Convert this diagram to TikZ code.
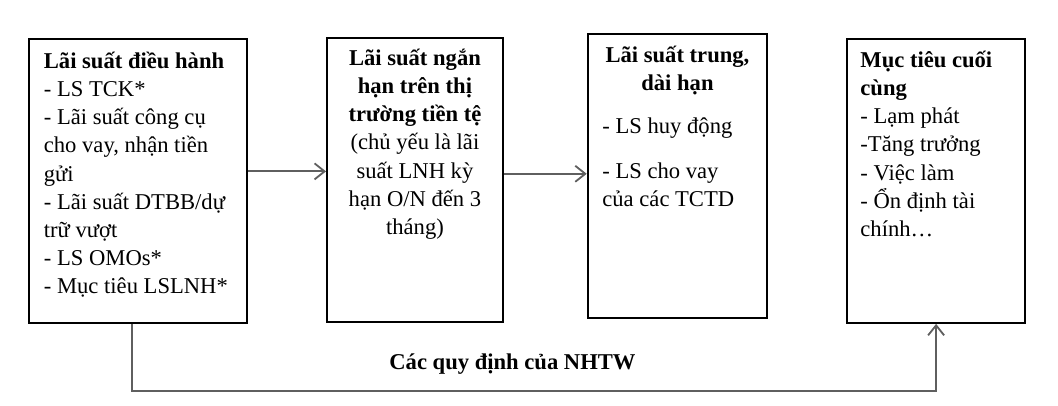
\documentclass[tikz,border=0pt]{standalone}
\usepackage{fontspec}
\setmainfont{Liberation Serif}
\usetikzlibrary{arrows.meta,positioning}
\definecolor{linkgray}{RGB}{95,95,95}
\newcommand{\topstrut}{\rule{0pt}{11pt}}

\begin{document}
\begin{tikzpicture}[
    x=0.5pt, y=0.5pt,
    font=\fontsize{11.3}{14.1}\selectfont,
    box/.style={rectangle, draw, line width=1.1pt, minimum height=142pt, anchor=north west, inner sep=0pt},
    txt/.style={inner sep=0pt, align=left},
    ctxt/.style={inner sep=0pt, align=center},
    arrow/.style={-{Straight Barb[length=5pt,width=8pt]}, draw=linkgray, line width=0.9pt}
]
\useasboundingbox[fill=white] (0,0) rectangle (1058,406);

% Boxes
\node[box, minimum width=109pt] (lsdh) at (27.7,367.7) {};
\node[box, minimum width=87.85pt] (lsnh) at (326,369.3) {};
\node[box, minimum width=89.65pt] (lstdh) at (586.7,373.3) {};
\node[box, minimum width=89pt] (mtcc) at (846,368.3) {};

% Texts
\node[txt, below right=3.85pt and 7.9pt of lsdh.north west] (lsdhtxt) {\topstrut\textbf{Lãi suất điều hành}\\
- LS TCK*\\
- Lãi suất công cụ\\
cho vay, nhận tiền\\
gửi\\
- Lãi suất DTBB/dự\\
trữ vượt\\
- LS OMOs*\\
- Mục tiêu LSLNH*};

\node[ctxt, below=3.15pt of lsnh.north] (lsnhtxt) {\topstrut\textbf{Lãi suất ngắn}\\
\textbf{hạn trên thị}\\
\textbf{trường tiền tệ}\\
(chủ yếu là lãi\\
suất LNH kỳ\\
hạn O/N đến 3\\
tháng)};

\node[ctxt, below=3.65pt of lstdh.north] (lstdhhead) {\topstrut\textbf{Lãi suất trung,}\\
\textbf{dài hạn}};
\node[txt, below right=39.15pt and 7.65pt of lstdh.north west] (lstdhtxt) {\topstrut- LS huy động\\[8.3pt]
- LS cho vay\\
của các TCTD};

\node[txt, below right=3.65pt and 7pt of mtcc.north west] (mtcctxt) {\topstrut\textbf{Mục tiêu cuối}\\
\textbf{cùng}\\
- Lạm phát\\
-Tăng trưởng\\
- Việc làm\\
- Ổn định tài\\
chính…};

% Label
\node[inner sep=0pt, anchor=base, font=\fontsize{11.3}{14.1}\selectfont\bfseries] (qdnhtw) at (512.5,36) {Các quy định của NHTW};

% Arrows
\foreach \source/\dest/\dy in {lsdh/lsnh/5pt, lsnh/lstdh/3pt} {
    \draw[arrow] ([yshift=\dy]\source.east) -- ([yshift=\dy]\source.east -| \dest.west);
}
\draw[arrow] ([xshift=-2.85pt]lsdh.south) -- ++(0,-33.15pt) -| (mtcc.south);

\end{tikzpicture}
\end{document}
